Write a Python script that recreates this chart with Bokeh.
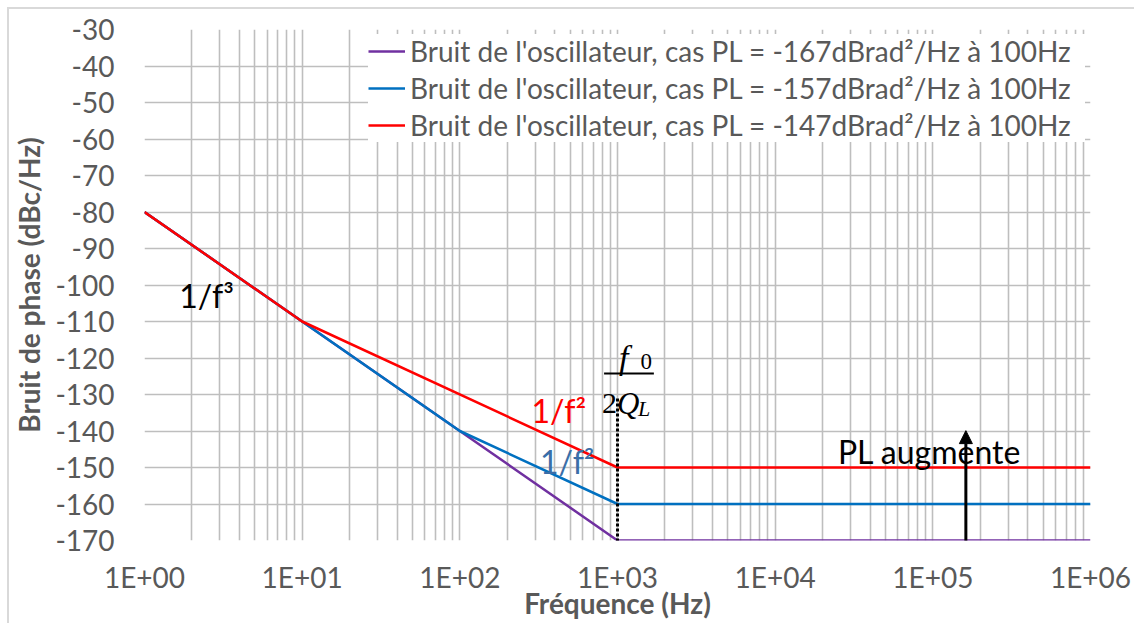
from bokeh.plotting import figure
from bokeh.models import (FixedTicker, Legend, LegendItem, Label, Arrow, NormalHead)
from bokeh.embed import file_html
from bokeh.resources import INLINE

# ---------------- data ----------------
freq = [1, 10, 100, 1000, 1000000]
noise_pl167 = [-80, -110, -140, -170, -170]
noise_pl157 = [-80, -110, -140, -160, -160]
freq_red = [1, 10, 1000, 1000000]
noise_pl147 = [-80, -110, -150, -150]

series_labels = [
    "Bruit de l'oscillateur, cas PL = -167dBrad\u00b2/Hz \u00e0 100Hz",
    "Bruit de l'oscillateur, cas PL = -157dBrad\u00b2/Hz \u00e0 100Hz",
    "Bruit de l'oscillateur, cas PL = -147dBrad\u00b2/Hz \u00e0 100Hz",
]
series_colors = ["#7030A0", "#0070C0", "#FF0000"]

x_tick_values = [1, 10, 100, 1000, 10000, 100000, 1000000]
x_tick_labels = ["1E+00", "1E+01", "1E+02", "1E+03", "1E+04", "1E+05", "1E+06"]
x_minor_values = [m * d for d in [1, 10, 100, 1000, 10000, 100000] for m in range(2, 10)]
y_tick_values = list(range(-170, -29, 10))
y_tick_labels = [str(v) for v in y_tick_values]

FONT = "Lato"
GRAY = "#595959"
GRID = "#BEBEBE"

p = figure(width=1125, height=614, x_axis_type="log",
           x_range=(1, 1000000), y_range=(-170, -30),
           output_backend="svg", toolbar_location=None,
           min_border_left=132, min_border_right=44,
           min_border_top=20, min_border_bottom=83)
p.outline_line_color = None
p.styles = {"margin-left": "9px", "margin-top": "9px",
            "outline": "2px solid #D9D9D9"}

# axes
p.xaxis.ticker = FixedTicker(ticks=x_tick_values, minor_ticks=x_minor_values)
p.xaxis.major_label_overrides = {v: l for v, l in zip(x_tick_values, x_tick_labels)}
p.yaxis.ticker = FixedTicker(ticks=y_tick_values)
p.yaxis.major_label_overrides = {v: l for v, l in zip(y_tick_values, y_tick_labels)}
for ax in (p.xaxis, p.yaxis):
    ax.axis_line_color = None
    ax.major_tick_line_color = None
    ax.minor_tick_line_color = None
    ax.major_tick_out = 0
    ax.major_tick_in = 0
    ax.minor_tick_out = 0
    ax.minor_tick_in = 0
    ax.major_label_text_font = FONT
    ax.major_label_text_font_size = "28px"
    ax.major_label_text_color = GRAY
    ax.axis_label_text_font = FONT
    ax.axis_label_text_font_style = "bold"
    ax.axis_label_text_font_size = "28px"
    ax.axis_label_text_color = GRAY
p.xaxis.axis_label = "Fr\u00e9quence (Hz)"
p.yaxis.axis_label = "Bruit de phase (dBc/Hz)"
p.xaxis.major_label_standoff = 19
p.xaxis.axis_label_standoff = -11
p.yaxis.major_label_standoff = 30
p.yaxis.axis_label_standoff = 6

# grids
p.xgrid.grid_line_color = GRID
p.xgrid.grid_line_width = 1.6
p.xgrid.minor_grid_line_color = GRID
p.xgrid.minor_grid_line_width = 1.6
p.ygrid.grid_line_color = GRID
p.ygrid.grid_line_width = 1.6

# series
r1 = p.line(freq, noise_pl167, line_color=series_colors[0], line_width=2.5)
r2 = p.line(freq, noise_pl157, line_color=series_colors[1], line_width=2.5)
r3 = p.line(freq_red, noise_pl147, line_color=series_colors[2], line_width=2.5)

legend = Legend(items=[LegendItem(label=series_labels[0], renderers=[r1]),
                       LegendItem(label=series_labels[1], renderers=[r2]),
                       LegendItem(label=series_labels[2], renderers=[r3])],
                location="top_right", margin=5, padding=5, spacing=3,
                glyph_width=37, glyph_height=26, label_height=26,
                label_width=675, label_standoff=5, label_text_font=FONT,
                label_text_font_size="28px", label_text_color=GRAY,
                background_fill_color="white", background_fill_alpha=1.0,
                border_line_color=None)
p.add_layout(legend)

# annotations
p.add_layout(Label(x=1.66, y=-103, text="1/f\u00b3", text_font=FONT,
                   text_font_size="32px", text_color="black",
                   text_baseline="middle"))
p.add_layout(Label(x=285, y=-134.4, text="1/f\u00b2", text_font=FONT,
                   text_font_size="32px", text_color="#FF0000",
                   text_baseline="middle"))
p.add_layout(Label(x=322, y=-148.4, text="1/f\u00b2", text_font=FONT,
                   text_font_size="32px", text_color="#3A6EA8",
                   text_baseline="middle"))
p.add_layout(Label(x=25000, y=-145.6, text="PL augmente", text_font=FONT,
                   text_font_size="32px", text_color="black",
                   text_baseline="middle"))

# f0 / (2 Q_L)
SERIF = "Liberation Serif"
p.add_layout(Label(x=1021, y=-119.8, text="f", text_font=SERIF,
                   text_font_style="italic", text_font_size="34px",
                   text_color="black", text_baseline="alphabetic"))
p.add_layout(Label(x=1400, y=-121.0, text="0", text_font=SERIF,
                   text_font_size="23px", text_color="black",
                   text_baseline="alphabetic"))
p.add_layout(Arrow(end=None, x_start=822, y_start=-124.25, x_end=1701,
                   y_end=-124.25, line_color="black", line_width=2))
p.add_layout(Label(x=798, y=-132.5, text="2", text_font=SERIF,
                   text_font_size="30px", text_color="black",
                   text_baseline="alphabetic"))
p.add_layout(Label(x=993, y=-132.5, text="Q", text_font=SERIF,
                   text_font_style="italic", text_font_size="31px",
                   text_color="black", text_baseline="alphabetic"))
p.add_layout(Label(x=1348, y=-133.8, text="L", text_font=SERIF,
                   text_font_style="italic", text_font_size="22px",
                   text_color="black", text_baseline="alphabetic"))

# dotted marker at f0/2QL
p.add_layout(Arrow(end=None, x_start=1000, y_start=-131.1, x_end=1000,
                   y_end=-173.3, line_color="black", line_width=3,
                   line_dash="3 2"))
# PL increases arrow
p.add_layout(Arrow(end=NormalHead(size=13, fill_color="black", line_color="black"),
                   x_start=162000, y_start=-171.4, x_end=162000, y_end=-139.9,
                   line_color="black", line_width=3))

open("out.html", "w").write(file_html(p, INLINE))
